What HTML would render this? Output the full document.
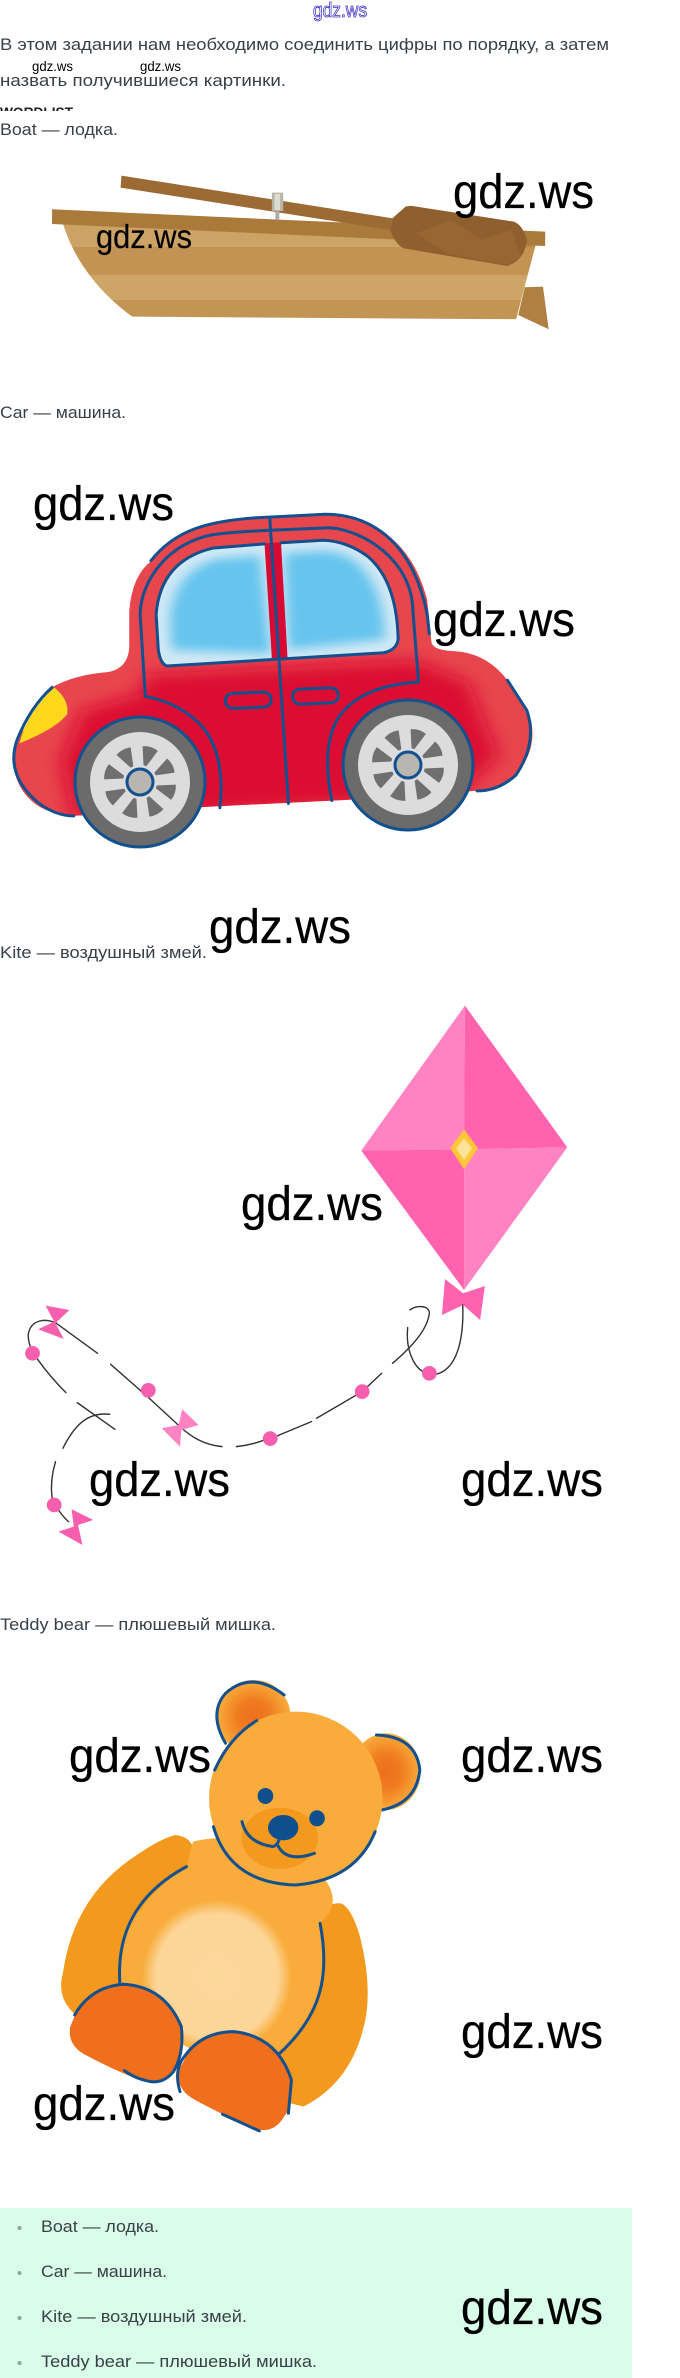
<!DOCTYPE html>
<html lang="ru">
<head>
<meta charset="utf-8">
<title>gdz.ws</title>
<style>
html,body{margin:0;padding:0;background:#fff;}
svg{display:block;}
.t{font-family:"Liberation Sans",sans-serif;font-size:17px;fill:#3a4047;}
.w{font-family:"Liberation Sans",sans-serif;font-size:48px;fill:#000;stroke:#000;stroke-width:.3;}
.s{font-family:"Liberation Sans",sans-serif;font-size:13.5px;fill:#000;}
.b{fill:none;stroke:#12508e;stroke-width:3;stroke-linecap:round;stroke-linejoin:round;vector-effect:non-scaling-stroke;}
.k{fill:none;stroke:#333;stroke-width:1.4;stroke-linecap:round;vector-effect:non-scaling-stroke;}
</style>
</head>
<body>
<svg xmlns="http://www.w3.org/2000/svg" width="680" height="2378" viewBox="0 0 680 2378">
<defs>
<radialGradient id="ear"><stop offset="0" stop-color="#ee6f1e"/><stop offset=".45" stop-color="#f07c20"/><stop offset="1" stop-color="#f9ac3b"/></radialGradient>
<radialGradient id="belly"><stop offset="0" stop-color="#fcd79b"/><stop offset=".82" stop-color="#fcd597"/><stop offset="1" stop-color="#f9ac3b"/></radialGradient>
<filter id="bl" x="-30%" y="-30%" width="160%" height="160%"><feGaussianBlur stdDeviation="22"/></filter>
<filter id="bw" x="-30%" y="-30%" width="160%" height="160%"><feGaussianBlur stdDeviation="14"/></filter>
<clipPath id="cut"><rect x="0" y="100" width="120" height="11"/></clipPath>
<clipPath id="hull"><path d="M145 670 C170 780 230 880 305 950 L1190 958 L1235 735 Z"/></clipPath>
<clipPath id="body"><path d="M350 450 C400 370 470 335 620 325 L750 320 C850 320 950 390 985 560 L995 680 Q1000 700 1040 703 Q1120 705 1170 785 L1225 900 Q1240 1000 1170 1070 Q1130 1095 1095 1095 L800 1120 L470 1140 L170 1165 Q80 1160 45 1080 Q20 1020 40 950 L120 805 Q170 770 250 762 Q300 750 298 680 L298 590 Q305 490 350 450Z"/></clipPath>
<clipPath id="winl"><path d="M385 745 Q370 740 365 700 L360 600 Q370 450 490 415 L610 405 L627 727Z"/></clipPath>
<clipPath id="winr"><path d="M648 400 L745 393 Q800 395 850 440 Q915 510 918 670 Q915 700 885 708 L663 722Z"/></clipPath>
<path id="wd" d="M-1.5 -17 L-8 -35 Q0 -38 8 -35 L1.5 -17Z" fill="#6f6f6f"/>
<g id="wh">
<circle r="65" fill="#6b6b6b" stroke="#12508e" stroke-width="3"/>
<circle r="50" fill="#dcdcdc"/>
<use href="#wd" transform="rotate(17)"/>
<use href="#wd" transform="rotate(62)"/>
<use href="#wd" transform="rotate(107)"/>
<use href="#wd" transform="rotate(152)"/>
<use href="#wd" transform="rotate(197)"/>
<use href="#wd" transform="rotate(242)"/>
<use href="#wd" transform="rotate(287)"/>
<use href="#wd" transform="rotate(332)"/>
<circle r="13" fill="#b9b5b0" stroke="#12508e" stroke-width="3"/>
</g>
</defs>

<rect width="680" height="2378" fill="#fff"/>

<!-- Header text -->
<text x="313" y="17" font-family="'Liberation Sans',sans-serif" font-size="20" fill="#fff" stroke="#3a2fc4" stroke-width=".8" textLength="54" lengthAdjust="spacingAndGlyphs">gdz.ws</text>
<text class="t" x="0" y="50" textLength="609" lengthAdjust="spacingAndGlyphs">В этом задании нам необходимо соединить цифры по порядку, а затем</text>
<text class="t" x="0" y="86" textLength="286" lengthAdjust="spacingAndGlyphs">назвать получившиеся картинки.</text>
<text class="s" x="32" y="71" textLength="41" lengthAdjust="spacingAndGlyphs">gdz.ws</text>
<text class="s" x="140" y="71" textLength="41" lengthAdjust="spacingAndGlyphs">gdz.ws</text>
<g clip-path="url(#cut)"><text x="0" y="117" font-family="'Liberation Sans',sans-serif" font-size="14" font-weight="700" fill="#222" textLength="73" lengthAdjust="spacingAndGlyphs">WORDLIST</text></g>
<text class="t" x="0" y="135" textLength="118" lengthAdjust="spacingAndGlyphs">Boat — лодка.</text>

<!-- Boat -->
<g transform="scale(.4337,.3333)">
<polygon points="1210,862 1252,860 1265,988 1195,945" fill="#b07f42"/>
<g clip-path="url(#hull)">
<rect x="140" y="660" width="1110" height="81" fill="#cca265"/>
<polygon points="148,672 1240,735 1240,745 900,718" fill="#b98c4c"/>
<rect x="140" y="741" width="1110" height="84" fill="#c29353"/>
<rect x="140" y="825" width="1110" height="75" fill="#cea467"/>
<rect x="140" y="900" width="1110" height="60" fill="#c39554"/>
</g>
<polygon points="120,628 1257,695 1257,738 120,672" fill="#aa7a3b"/>
<polygon points="280,527 905,655 900,690 278,563" fill="#9c6a34"/>
<rect x="635" y="630" width="9" height="28" fill="#aaa"/>
<rect x="627" y="578" width="26" height="55" fill="#b7b4a8"/>
<rect x="633" y="582" width="13" height="48" fill="#dedbd0"/>
<path d="M905 655 L935 620 Q945 615 960 620 L1185 665 Q1205 675 1215 720 Q1210 780 1170 798 L930 745 Q910 730 900 690Z" fill="#8f5f2e"/>
<path d="M960 700 L1040 660 L1110 720 L1180 690 L1200 770 L1170 795 L1030 760Z" fill="#976632"/>
</g>
<text class="w" x="453" y="208" textLength="141" lengthAdjust="spacingAndGlyphs">gdz.ws</text>
<text class="w" style="font-size:33px;stroke-width:.2" x="96" y="248" textLength="96" lengthAdjust="spacingAndGlyphs">gdz.ws</text>

<!-- Car -->
<text class="t" x="0" y="418" textLength="126" lengthAdjust="spacingAndGlyphs">Car — машина.</text>
<g transform="translate(0,400) scale(.4337,.357)">
<g clip-path="url(#body)">
<rect x="0" y="300" width="1260" height="880" fill="#e8464d"/>
<path d="M330 770 L960 730 L1080 790 L1150 1000 L1050 1110 L170 1180 L140 1010 L190 870 L330 820Z" fill="#dc0a30" filter="url(#bl)"/>
</g>
<path d="M125 805 Q160 840 155 880 Q130 920 45 962 Q60 880 125 805Z" fill="#ffd81e"/>
<polygon points="607,402 650,398 667,725 625,730" fill="#d80a34"/>
<g clip-path="url(#winl)">
<rect x="350" y="395" width="290" height="360" fill="#d0e9f5"/>
<path d="M395 700 L392 610 Q400 480 500 445 L600 435 L625 710Z" fill="#66c4ee" filter="url(#bw)"/>
</g>
<g clip-path="url(#winr)">
<rect x="640" y="385" width="290" height="345" fill="#d0e9f5"/>
<path d="M655 430 L745 423 Q800 425 830 465 Q885 530 888 670 L665 700Z" fill="#66c4ee" filter="url(#bw)"/>
</g>
<path class="b" d="M385 745 Q370 740 365 700 L360 600 Q370 450 490 415 L610 403 M648 400 L745 393 Q800 395 850 440 Q915 510 918 670 Q915 700 885 708 L385 745"/>
<path class="b" d="M348 450 C400 370 470 335 620 328 L750 320 C850 320 950 390 985 600 L990 655"/>
<path class="b" d="M335 830 L323 600 C326 500 390 400 491 377 C550 368 590 367 622 365 L760 358 C840 365 950 450 952 590 L965 790 Q830 800 780 890 Q740 970 765 1122"/>
<path class="b" d="M335 830 Q420 850 470 920 Q520 1000 507 1142"/>
<path class="b" d="M622 330 L665 1130"/>
<path class="b" d="M1170 785 L1215 870 Q1240 960 1190 1050 Q1150 1095 1100 1095"/>
<path class="b" d="M120 805 Q70 860 40 950 Q10 1050 90 1130 Q130 1165 170 1165"/>
<rect class="b" x="520" y="820" width="105" height="42" rx="18" transform="rotate(-3 572 841)"/>
<rect class="b" x="675" y="808" width="105" height="42" rx="18" transform="rotate(-3 727 829)"/>
</g>
<use href="#wh" x="140" y="782"/>
<use href="#wh" x="408" y="765"/>
<text class="w" x="33" y="520" textLength="141" lengthAdjust="spacingAndGlyphs">gdz.ws</text>
<text class="w" x="433" y="636" textLength="142" lengthAdjust="spacingAndGlyphs">gdz.ws</text>
<text class="t" x="0" y="958" textLength="207" lengthAdjust="spacingAndGlyphs">Kite — воздушный змей.</text>
<text class="w" x="209" y="943" textLength="142" lengthAdjust="spacingAndGlyphs">gdz.ws</text>

<!-- Kite -->
<g transform="translate(0,960) scale(.4337,.3333)">
<polygon points="1026,957 1068,1000 1118,978 1107,1080 1068,1035 1019,1065" fill="#ff62ae"/>
<polygon points="1072,137 1308,562 1070,990 833,572" fill="#fff" stroke="#fff" stroke-width="3" vector-effect="non-scaling-stroke"/>
<polygon points="1072,137 1070,568 833,572" fill="#ff82c2"/>
<polygon points="1072,137 1308,562 1070,568" fill="#ff62ae"/>
<polygon points="833,572 1070,568 1070,990" fill="#ff62ae"/>
<polygon points="1070,568 1308,562 1070,990" fill="#ff82c2"/>
<polygon points="1070,508 1102,565 1070,628 1038,565" fill="#ffc737"/>
<polygon points="1070,535 1088,565 1070,600 1052,565" fill="#fde39a"/>
<path class="k" d="M1067 1035 C1070 1150 1050 1230 1005 1243"/>
<path class="k" d="M985 1240 C955 1230 935 1170 940 1103"/>
<path class="k" d="M945 1050 C960 1035 990 1035 990 1060 C985 1110 950 1160 905 1210"/>
<path class="k" d="M880 1240 L835 1295 L730 1375"/>
<path class="k" d="M718 1385 L635 1430"/>
<path class="k" d="M610 1440 Q580 1455 545 1460"/>
<path class="k" d="M512 1460 C470 1455 440 1430 415 1400 L340 1310 L255 1213"/>
<path class="k" d="M225 1180 L130 1090 C110 1075 70 1075 65 1125 Q65 1150 75 1175"/>
<path class="k" d="M85 1195 Q115 1250 152 1298"/>
<path class="k" d="M178 1328 L265 1408"/>
<path class="k" d="M253 1363 C200 1355 170 1400 145 1465"/>
<path class="k" d="M128 1505 Q115 1560 120 1615"/>
<path class="k" d="M135 1650 Q145 1670 158 1685"/>
<g fill="#f75fae">
<ellipse cx="990" cy="1240" rx="17" ry="22"/>
<ellipse cx="835" cy="1295" rx="17" ry="22"/>
<ellipse cx="623" cy="1436" rx="17" ry="22"/>
<ellipse cx="342" cy="1291" rx="17" ry="22"/>
<ellipse cx="75" cy="1180" rx="17" ry="22"/>
<ellipse cx="125" cy="1635" rx="17" ry="22"/>
<polygon points="105,1037 160,1050 128,1090 147,1137 88,1108 125,1085"/>
<polygon points="165,1648 215,1680 180,1695 190,1755 135,1715 170,1700"/>
</g>
<polygon points="420,1348 458,1395 418,1410 415,1460 373,1405 412,1395" fill="#ff82c2"/>
</g>
<text class="w" x="241" y="1220" textLength="142" lengthAdjust="spacingAndGlyphs">gdz.ws</text>
<text class="w" x="89" y="1496" textLength="141" lengthAdjust="spacingAndGlyphs">gdz.ws</text>
<text class="w" x="461" y="1496" textLength="142" lengthAdjust="spacingAndGlyphs">gdz.ws</text>

<!-- Bear -->
<text class="t" x="0" y="1630" textLength="276" lengthAdjust="spacingAndGlyphs">Teddy bear — плюшевый мишка.</text>
<g transform="translate(0,1480) scale(.4337,.3333)">
<path d="M740 1300 Q750 1270 785 1270 Q810 1280 830 1370 Q855 1500 845 1600 Q820 1800 700 1880 L640 1860 L600 1700 L700 1500Z" fill="#f39a1e"/>
<path d="M405 1065 Q440 1070 447 1110 Q445 1150 420 1170 L300 1400 L280 1500 L280 1600 L170 1600 Q130 1550 145 1480 Q170 1250 310 1130 Q370 1075 405 1065Z" fill="#f39a1e"/>
<path d="M445 1085 Q480 1075 500 1075 L750 1200 Q790 1270 738 1330 C760 1480 745 1600 645 1720 L280 1510 L275 1450 Q290 1280 430 1160Z" fill="#f9ac3b"/>
<ellipse cx="500" cy="1490" rx="172" ry="230" fill="url(#belly)"/>
<path class="b" d="M430 1160 C330 1230 265 1340 277 1520"/>
<path class="b" d="M738 1330 C760 1480 745 1600 645 1720"/>
<path d="M175 1600 Q210 1520 285 1513 Q380 1520 415 1640 Q425 1720 400 1770 Q375 1810 340 1805 Q290 1790 190 1720 Q155 1690 162 1640Z" fill="#ef6f1c"/>
<path class="b" d="M172 1605 Q210 1520 285 1513 Q380 1520 418 1640 Q425 1720 400 1775 Q375 1815 340 1803 Q310 1795 287 1772"/>
<path d="M425 1740 Q450 1655 540 1655 Q640 1670 672 1800 Q675 1880 655 1910 Q635 1955 600 1950 Q550 1930 450 1860 Q405 1830 412 1770Z" fill="#ef6f1c"/>
<path class="b" d="M415 1835 Q400 1770 425 1730 Q465 1655 540 1655 Q640 1670 672 1800 L665 1900 M513 1903 L598 1953"/>
<ellipse cx="585" cy="710" rx="85" ry="110" fill="url(#ear)"/>
<path class="b" d="M520 790 Q480 700 520 640 Q580 570 655 645"/>
<ellipse cx="890" cy="875" rx="80" ry="115" fill="url(#ear)"/>
<path class="b" d="M868 765 Q960 770 968 870 Q960 970 880 990"/>
<ellipse cx="682" cy="955" rx="200" ry="260" fill="#f9ac3b"/>
<path class="b" d="M492 1040 Q530 1210 682 1215 Q820 1200 865 1055"/>
<path class="b" d="M495 870 Q530 770 592 722"/>
<ellipse cx="645" cy="1075" rx="88" ry="92" fill="#f39a1e"/>
<g fill="#0e4f8e">
<ellipse cx="612" cy="948" rx="18" ry="24"/>
<ellipse cx="731" cy="1015" rx="18" ry="24"/>
<ellipse cx="653" cy="1043" rx="35" ry="38"/>
</g>
<path class="b" d="M558 1025 Q570 1090 630 1100 Q640 1095 645 1075"/>
<path class="b" d="M640 1095 Q660 1150 725 1120"/>
</g>
<text class="w" x="69" y="1772" textLength="142" lengthAdjust="spacingAndGlyphs">gdz.ws</text>
<text class="w" x="461" y="1772" textLength="142" lengthAdjust="spacingAndGlyphs">gdz.ws</text>
<text class="w" x="461" y="2048" textLength="142" lengthAdjust="spacingAndGlyphs">gdz.ws</text>
<text class="w" x="33" y="2120" textLength="142" lengthAdjust="spacingAndGlyphs">gdz.ws</text>

<!-- Summary list -->
<rect x="0" y="2208" width="632" height="170" fill="#d9fde9"/>
<g fill="#8ea79b">
<circle cx="19.5" cy="2228" r="2"/>
<circle cx="19.5" cy="2273" r="2"/>
<circle cx="19.5" cy="2318" r="2"/>
<circle cx="19.5" cy="2363" r="2"/>
</g>
<text class="t" x="41" y="2232" textLength="118" lengthAdjust="spacingAndGlyphs">Boat — лодка.</text>
<text class="t" x="41" y="2277" textLength="126" lengthAdjust="spacingAndGlyphs">Car — машина.</text>
<text class="t" x="41" y="2322" textLength="206" lengthAdjust="spacingAndGlyphs">Kite — воздушный змей.</text>
<text class="t" x="41" y="2367" textLength="276" lengthAdjust="spacingAndGlyphs">Teddy bear — плюшевый мишка.</text>
<text class="w" x="461" y="2324" textLength="142" lengthAdjust="spacingAndGlyphs">gdz.ws</text>
</svg>
</body>
</html>
